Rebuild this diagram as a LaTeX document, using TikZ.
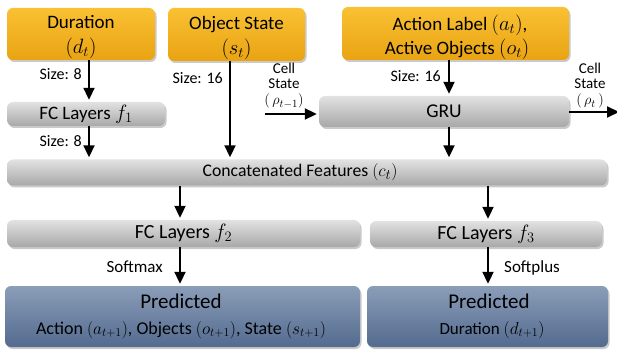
\documentclass[tikz,border=0pt]{standalone}
\usepackage{fontspec}
\setmainfont{Carlito}
\usetikzlibrary{arrows.meta,shadows,calc}
\definecolor{orTop}{HTML}{F9C133}
\definecolor{orBot}{HTML}{E9A312}
\definecolor{grTop}{HTML}{E2E2E2}
\definecolor{grBot}{HTML}{A8A8A8}
\definecolor{blTop}{HTML}{8B9DB8}
\definecolor{blBot}{HTML}{536B8F}
\newcommand\mymath[2]{{\fontsize{#1}{#1}\selectfont$#2$}}
\tikzset{
  box/.style={rectangle, rounded corners=6pt, inner sep=0pt, align=center,
    drop shadow={shadow xshift=1.5pt, shadow yshift=-2pt, opacity=0.35, fill=black!60}},
  inbox/.style={box, top color=orTop, bottom color=orBot},
  intext/.style={align=center, inner sep=0pt, font=\fontsize{19}{24}\selectfont},
  fcbox/.style={box, top color=grTop, bottom color=grBot, font=\fontsize{20}{22}\selectfont},
  predbox/.style={box, top color=blTop, bottom color=blBot},
  arr/.style={-{Triangle[length=12pt,width=11pt]}, line width=2pt, shorten >=2pt},
  lbl/.style={font=\fontsize{16}{18}\selectfont, inner sep=2pt},
  small/.style={font=\fontsize{15}{15}\selectfont, align=center, inner sep=0pt}
}
\begin{document}
\begin{tikzpicture}[x=1pt,y=-1pt]
\useasboundingbox (0,0) rectangle (617,352);
% input boxes
\node[inbox, minimum width=148pt, minimum height=52pt] (dur) at (81,34) {};
\node[intext] (durt) at (81,37) {Duration\\[1pt]\mymath{22}{(d_t)}};
\node[inbox, minimum width=137pt, minimum height=53pt] (obj) at (236.5,34.5) {};
\node[intext] (objt) at (236.5,37.5) {Object State\\[1pt]\mymath{22}{(s_t)}};
\node[inbox, minimum width=227pt, minimum height=53pt] (act) at (455.5,33.5) {};
\node[intext] (actt) at (457,37) {\hspace*{6pt}Action Label \mymath{21}{(a_t)},\\Active Objects \mymath{21}{(o_t)}};
% middle
\node[fcbox, minimum width=158pt, minimum height=24pt, font=\fontsize{19}{22}\selectfont] (f1) at (86,114) {FC Layers \mymath{21}{f_1}};
\node[fcbox, minimum width=250pt, minimum height=31pt, font=\fontsize{19.5}{22}\selectfont] (gru) at (444,111.5) {GRU};
\node[fcbox, minimum width=600pt, minimum height=26pt, font=\fontsize{17.7}{20}\selectfont] (cat) at (307,172.5) {\hspace*{-14pt}Concatenated Features \mymath{19}{(c_t)}};
\node[fcbox, minimum width=353pt, minimum height=27pt] (f2) at (183.5,233.5) {FC Layers \mymath{21}{f_2}};
\node[fcbox, minimum width=232pt, minimum height=26pt] (f3) at (486,234) {FC Layers \mymath{21}{f_3}};
% outputs
\node[predbox, minimum width=355pt, minimum height=61pt] (pl) at (182.5,316.5) {};
\node[font=\fontsize{21}{24}\selectfont] (plt) at (181,301) {Predicted};
\node[font=\fontsize{18}{20}\selectfont] (pls) at (181,330) {Action $(a_{t+1})$, Objects $(o_{t+1})$, State $(s_{t+1})$};
\node[predbox, minimum width=241pt, minimum height=61pt] (pr) at (487.5,316.5) {};
\node[font=\fontsize{21}{24}\selectfont] (prt) at (489,301) {Predicted};
\node[font=\fontsize{17}{20}\selectfont] (prs) at (492,330) {Duration $(d_{t+1})$};
% arrow x positions
\coordinate (xa) at (89,0);
\coordinate (xb) at (230,0);
\coordinate (xc) at (449,0);
\coordinate (xd) at (180,0);
\coordinate (xe) at (488,0);
% arrows
\draw[arr] (dur.south -| xa) -- (f1.north -| xa);
\draw[arr] (f1.south -| xa) -- (cat.north -| xa);
\draw[arr] (obj.south -| xb) -- (cat.north -| xb);
\draw[arr] (act.south -| xc) -- (gru.north -| xc);
\draw[arr] (gru.south -| xc) -- (cat.north -| xc);
\draw[arr] (cat.south -| xd) -- (f2.north -| xd);
\draw[arr] (cat.south -| xe) -- (f3.north -| xe);
\draw[arr] (f2.south -| xd) -- (pl.north -| xd);
\draw[arr] (f3.south -| xe) -- (pr.north -| xe);
% cell state
\coordinate (cin) at (265,114);
\coordinate (cout) at (619,112);
\draw[arr] (cin) -- (cin -| gru.west);
\draw[arr, shorten >=0pt] (gru.east |- cout) -- (cout);
\node[small] (csl) at (284,86) {Cell\\State\\[1pt]\mymath{15}{(\,\rho_{t-1})}};
\node[small] (csr) at (590,86) {Cell\\State\\[1pt]\mymath{15}{(\,\rho_t\,)}};
% labels
\node[lbl, anchor=east] (s1) at (84,74) {Size: 8};
\node[lbl, anchor=east] (s2) at (84,141) {Size: 8};
\node[lbl, anchor=east] (s3) at (225,78) {Size: 16};
\node[lbl, anchor=east] (s4) at (443,76) {Size: 16};
\node[lbl, anchor=east, font=\fontsize{17}{18}\selectfont] (sm) at (165,267) {Softmax};
\node[lbl, anchor=west, font=\fontsize{17}{18}\selectfont] (sp) at (502,268) {Softplus};
\end{tikzpicture}
\end{document}
